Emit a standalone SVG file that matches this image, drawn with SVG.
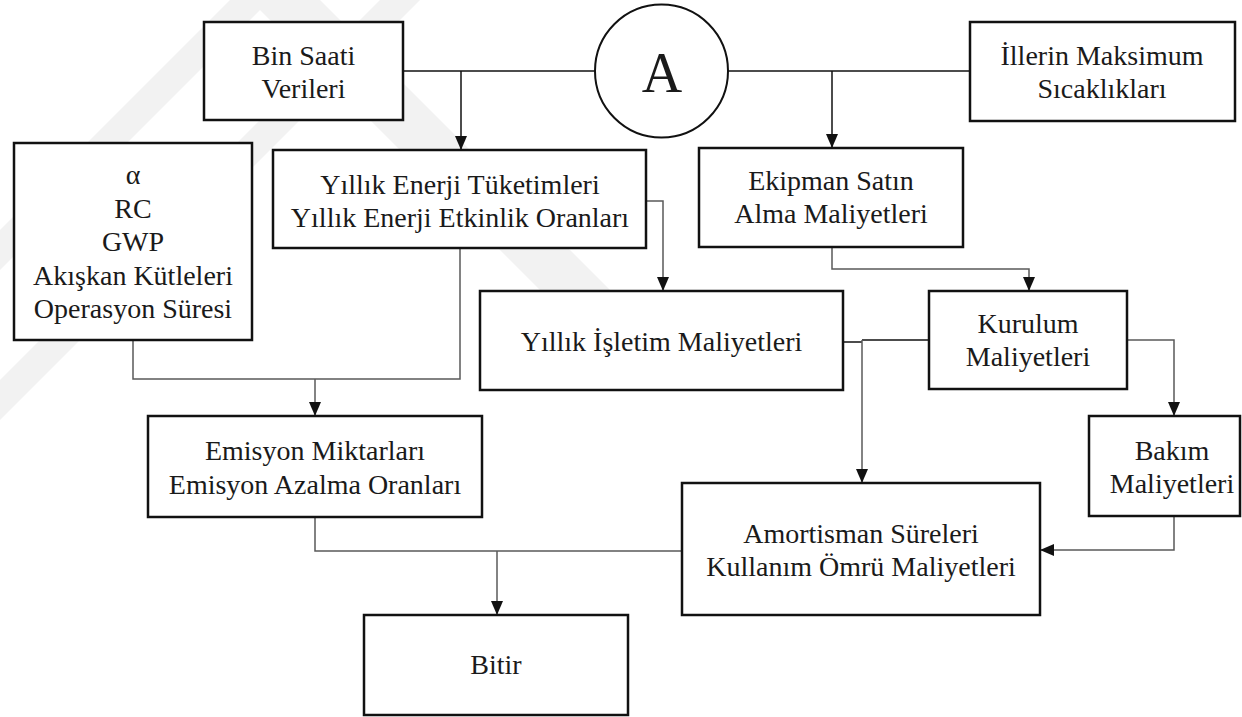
<svg xmlns="http://www.w3.org/2000/svg" width="1242" height="717" viewBox="0 0 1242 717">
<defs>
<style>
.box{fill:#fff;stroke:#111;stroke-width:2.5}
.t{font-family:'Liberation Serif','Times New Roman',serif;font-size:28px;fill:#1a1a1a;text-anchor:middle}
.big{font-size:56px}
.c{fill:none;stroke:#111;stroke-width:1.5}
.g{fill:none;stroke:#5a5a5a;stroke-width:1.5}
.wm{fill:#f2f2f2}
</style>
<marker id="ah" markerUnits="userSpaceOnUse" markerWidth="14" markerHeight="12" refX="14" refY="6" orient="auto">
<path d="M0,0 L14,6 L0,12 z" fill="#111"/>
</marker>
</defs>
<rect width="1242" height="717" fill="#fff"/>
<g id="watermark">
<polygon class="wm" points="230,0 270,0 0,270 0,230"/>
<polygon class="wm" points="380,0 420,0 0,420 0,380"/>
<polygon class="wm" points="250,0 320,0 620,300 550,300"/>
</g>
<g id="connectors">
<path class="c" d="M403,71 H596"/>
<path class="c" d="M461,71 V150" marker-end="url(#ah)"/>
<path class="c" d="M728,71 H970"/>
<path class="c" d="M832,71 V148" marker-end="url(#ah)"/>
<path class="g" d="M646,201 H663 V291" marker-end="url(#ah)"/>
<path class="g" d="M460,248 V379 H315"/>
<path class="g" d="M133,340 V379 H315"/>
<path class="g" d="M315,379 V416" marker-end="url(#ah)"/>
<path class="g" d="M832,247 V269 H1029 V291" marker-end="url(#ah)"/>
<path class="c" d="M843,342 H862"/>
<path class="c" d="M929,340 H862"/>
<path class="g" d="M862,340 V483" marker-end="url(#ah)"/>
<path class="g" d="M1127,340 H1174 V416" marker-end="url(#ah)"/>
<path class="g" d="M1174,516 V550 H1040" marker-end="url(#ah)"/>
<path class="g" d="M315,517 V551 H682"/>
<path class="g" d="M497,551 V615" marker-end="url(#ah)"/>
</g>
<g id="bin-saati">
<rect class="box" x="204" y="22" width="199" height="98"/>
<text class="t" x="303.5" y="65">Bin Saati</text>
<text class="t" x="303.5" y="98">Verileri</text>
</g>
<g id="circle-a">
<circle cx="661.5" cy="71" r="66.5" fill="#fff" stroke="#111" stroke-width="2"/>
<text class="t big" x="662" y="92">A</text>
</g>
<g id="illerin">
<rect class="box" x="970" y="22" width="265" height="99"/>
<text class="t" x="1102" y="65">İllerin Maksimum</text>
<text class="t" x="1102" y="98">Sıcaklıkları</text>
</g>
<g id="alpha">
<rect class="box" x="14" y="143" width="238" height="197"/>
<text class="t" x="133" y="184">α</text>
<text class="t" x="133" y="218">RC</text>
<text class="t" x="133" y="251">GWP</text>
<text class="t" x="133" y="285">Akışkan Kütleleri</text>
<text class="t" x="133" y="318">Operasyon Süresi</text>
</g>
<g id="yillik-enerji">
<rect class="box" x="273" y="150" width="373" height="98"/>
<text class="t" x="460" y="194">Yıllık Enerji Tüketimleri</text>
<text class="t" x="460" y="227">Yıllık Enerji Etkinlik Oranları</text>
</g>
<g id="ekipman">
<rect class="box" x="699" y="148" width="264" height="99"/>
<text class="t" x="831" y="190">Ekipman Satın</text>
<text class="t" x="831" y="223">Alma Maliyetleri</text>
</g>
<g id="isletim">
<rect class="box" x="480" y="291" width="363" height="99"/>
<text class="t" x="661.5" y="351">Yıllık İşletim Maliyetleri</text>
</g>
<g id="kurulum">
<rect class="box" x="929" y="291" width="198" height="98"/>
<text class="t" x="1028" y="333">Kurulum</text>
<text class="t" x="1028" y="366">Maliyetleri</text>
</g>
<g id="bakim">
<rect class="box" x="1089" y="416" width="151" height="100"/>
<text class="t" x="1172" y="460">Bakım</text>
<text class="t" x="1172" y="493">Maliyetleri</text>
</g>
<g id="emisyon">
<rect class="box" x="148" y="416" width="334" height="101"/>
<text class="t" x="315" y="460">Emisyon Miktarları</text>
<text class="t" x="315" y="494">Emisyon Azalma Oranları</text>
</g>
<g id="amortisman">
<rect class="box" x="682" y="483" width="358" height="132"/>
<text class="t" x="861" y="543">Amortisman Süreleri</text>
<text class="t" x="861" y="576">Kullanım Ömrü Maliyetleri</text>
</g>
<g id="bitir">
<rect class="box" x="364" y="615" width="264" height="100"/>
<text class="t" x="496" y="674">Bitir</text>
</g>
</svg>
